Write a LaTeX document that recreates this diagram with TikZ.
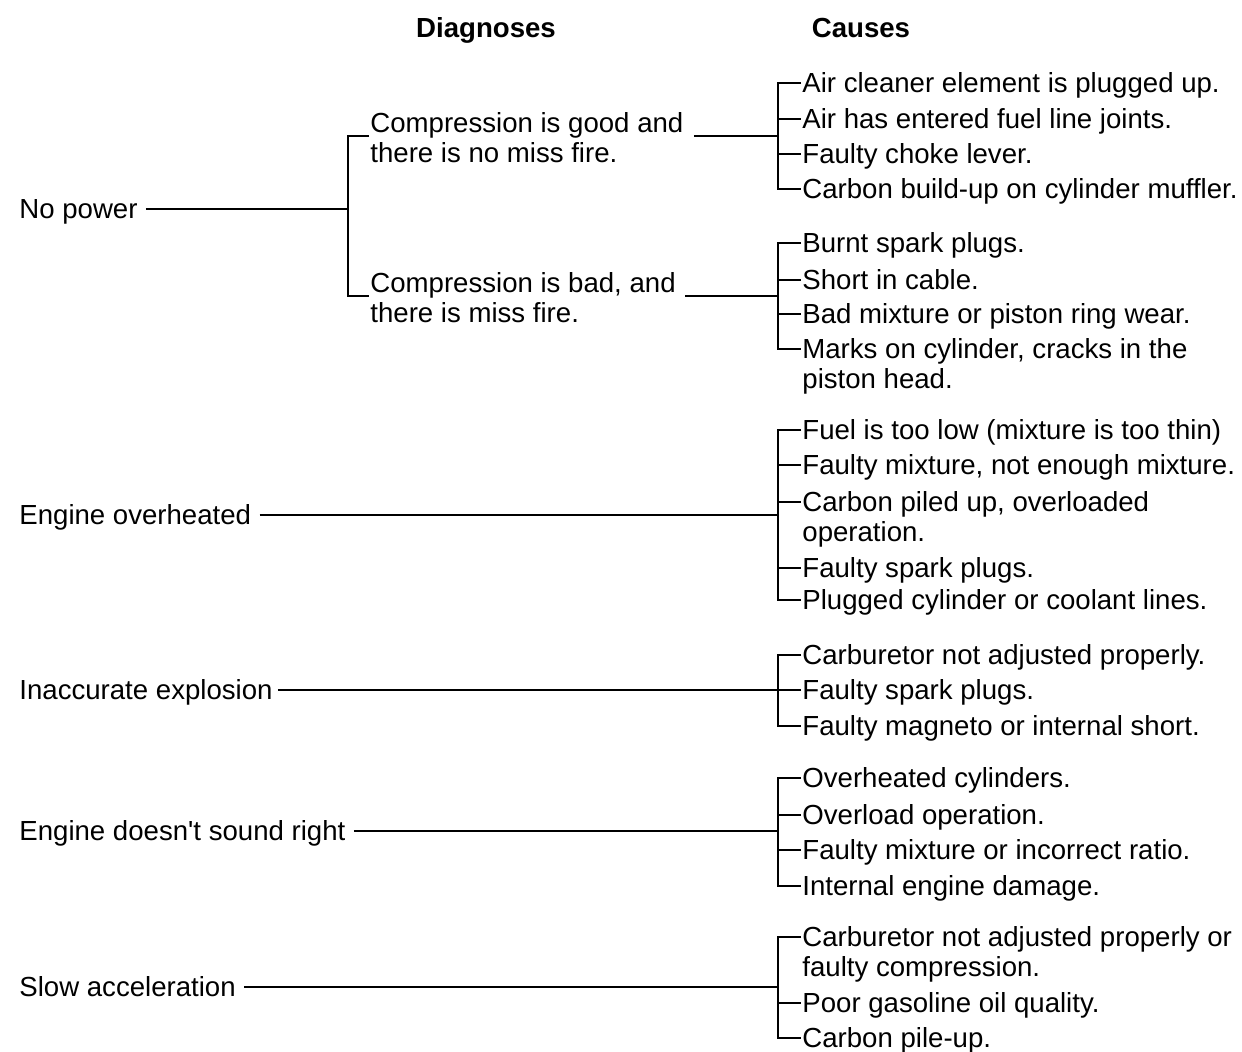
\documentclass[tikz,border=0pt]{standalone}
\usepackage{fontspec}
\setmainfont{Liberation Sans}
\newcommand{\twoln}[2]{\begin{tabular}[t]{@{}l@{}}#1\\#2\end{tabular}}
\begin{document}
\begin{tikzpicture}[x=0.5pt,y=-0.5pt,
  every node/.style={font=\fontsize{13.8}{15}\selectfont, inner ysep=0pt, text height=9.9pt, text depth=0pt},
  title/.style={font=\fontsize{13.8}{15}\selectfont\bfseries, anchor=center, inner xsep=0pt},
  symptom/.style={anchor=west, inner xsep=4pt},
  diag/.style={anchor=west, inner xsep=0.5pt, text depth=13.4pt},
  cause/.style={anchor=west, inner xsep=0.5pt},
  link/.style={line width=0.65pt}
]
\useasboundingbox (0,0) rectangle (1242,1051);

% headings
\node[title] (hd) at (486,28) {Diagnoses};
\node[title] (hc) at (861,28) {Causes};

% ---- No power
\node[symptom] (s1) at (11,209) {No power};
\coordinate (j1) at (348,209);
\node[diag] (d1) at (369,136) {\twoln{Compression is good and}{there is no miss fire.}};
\node[diag] (d2) at (369,296) {\twoln{Compression is bad, and}{there is miss fire.}};
\draw[link] (s1.east) -- (j1);
\draw[link] (d1.west) -| (j1 |- d2.west) -- (d2.west);

\coordinate (b1) at (778,136);
\node[cause] (c11) at (801,83) {Air cleaner element is plugged up.};
\node[cause] (c12) at (801,119) {Air has entered fuel line joints.};
\node[cause] (c13) at (801,154) {Faulty choke lever.};
\node[cause] (c14) at (801,189) {Carbon build-up on cylinder muffler.};
\draw[link, shorten <=4.5pt] (d1.east) -- (b1);
\draw[link] (c11.west) -| (b1 |- c14.west) -- (c14.west);
\foreach \c in {c12,c13} \draw[link] (b1 |- \c.west) -- (\c.west);

\coordinate (b2) at (778,296);
\node[cause] (c21) at (801,243) {Burnt spark plugs.};
\node[cause] (c22) at (801,280) {Short in cable.};
\node[cause] (c23) at (801,314) {Bad mixture or piston ring wear.};
\node[cause] (c24) at (801,349) {\twoln{Marks on cylinder, cracks in the}{piston head.}};
\draw[link, shorten <=4pt] (d2.east) -- (b2);
\draw[link] (c21.west) -| (b2 |- c24.west) -- (c24.west);
\foreach \c in {c22,c23} \draw[link] (b2 |- \c.west) -- (\c.west);

% ---- Engine overheated
\node[symptom] (s2) at (11,515) {Engine overheated};
\coordinate (b3) at (778,515);
\node[cause] (c31) at (801,430) {Fuel is too low (mixture is too thin)};
\node[cause] (c32) at (801,465) {Faulty mixture, not enough mixture.};
\node[cause] (c33) at (801,502) {\twoln{Carbon piled up, overloaded}{operation.}};
\node[cause] (c34) at (801,568) {Faulty spark plugs.};
\node[cause] (c35) at (801,600) {Plugged cylinder or coolant lines.};
\draw[link] (s2.east) -- (b3);
\draw[link] (c31.west) -| (b3 |- c35.west) -- (c35.west);
\foreach \c in {c32,c33,c34} \draw[link] (b3 |- \c.west) -- (\c.west);

% ---- Inaccurate explosion
\node[symptom, inner xsep=2.5pt] (s3) at (14,690) {Inaccurate explosion};
\coordinate (b4) at (778,690);
\node[cause] (c41) at (801,655) {Carburetor not adjusted properly.};
\node[cause] (c42) at (801,690) {Faulty spark plugs.};
\node[cause] (c43) at (801,726) {Faulty magneto or internal short.};
\draw[link] (s3.east) -- (b4);
\draw[link] (c41.west) -| (b4 |- c43.west) -- (c43.west);
\draw[link] (b4 |- c42.west) -- (c42.west);

% ---- Engine doesn't sound right
\node[symptom] (s4) at (11,831) {Engine doesn\textquotesingle t sound right};
\coordinate (b5) at (778,831);
\node[cause] (c51) at (801,778) {Overheated cylinders.};
\node[cause] (c52) at (801,815) {Overload operation.};
\node[cause] (c53) at (801,850) {Faulty mixture or incorrect ratio.};
\node[cause] (c54) at (801,886) {Internal engine damage.};
\draw[link] (s4.east) -- (b5);
\draw[link] (c51.west) -| (b5 |- c54.west) -- (c54.west);
\foreach \c in {c52,c53} \draw[link] (b5 |- \c.west) -- (\c.west);

% ---- Slow acceleration
\node[symptom] (s5) at (11,987) {Slow acceleration};
\coordinate (b6) at (778,987);
\node[cause] (c61) at (801,937) {\twoln{Carburetor not adjusted properly or}{faulty compression.}};
\node[cause] (c62) at (801,1003) {Poor gasoline oil quality.};
\node[cause] (c63) at (801,1038) {Carbon pile-up.};
\draw[link] (s5.east) -- (b6);
\draw[link] (c61.west) -| (b6 |- c63.west) -- (c63.west);
\draw[link] (b6 |- c62.west) -- (c62.west);
\end{tikzpicture}
\end{document}
